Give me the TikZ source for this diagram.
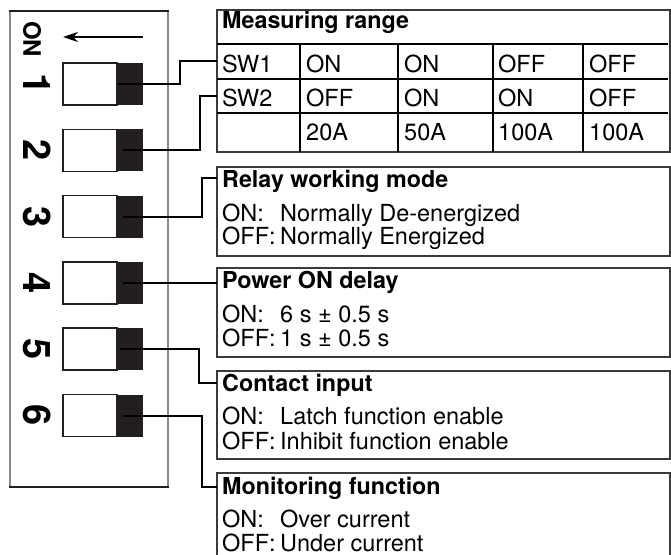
\documentclass[tikz,border=0pt]{standalone}
\usepackage{fontspec}
\setmainfont{TeX Gyre Heros}
\usetikzlibrary{arrows.meta}
\definecolor{swblack}{HTML}{231F20}
\definecolor{edgegray}{HTML}{8A8A8A}
\definecolor{boxline}{HTML}{3A3A3A}
\begin{document}
\begin{tikzpicture}[x=1pt,y=-1pt,
 conn/.style={line width=2pt, draw=black},
 gridline/.style={line width=2pt, draw=black},
 boxframe/.style={draw=boxline, line width=1.1pt, anchor=north west, minimum width=453pt, minimum height=89pt, inner sep=0pt, outer sep=0pt},
 txt/.style={anchor=base west, inner sep=0pt, font=\fontsize{23.5}{27}\selectfont},
 head/.style={anchor=base west, inner sep=0pt, font=\fontsize{23.3}{27}\selectfont\bfseries},
 digit/.style={font=\fontsize{38}{42}\selectfont\bfseries, rotate=-90, inner sep=0pt},
 swwhite/.style={draw=swblack, line width=1.5pt, fill=white, minimum width=54pt, minimum height=42pt, inner sep=0pt, outer sep=0pt, anchor=west},
 swknob/.style={fill=swblack, minimum width=26pt, minimum height=42pt, inner sep=0pt, outer sep=0pt, anchor=west},
]
\useasboundingbox (0,0) rectangle (671,554);
\fill[white] (0,0) rectangle (671,554);

% left switch panel
\draw[edgegray, line width=1.5pt] (10,11) -- (10,487);
\draw[edgegray, line width=1.5pt] (168,11) -- (168,487);
\draw[swblack, line width=2.5pt] (9.25,11) -- (168.75,11);
\draw[swblack, line width=2.5pt] (9.25,487) -- (168.75,487);

\node[font=\fontsize{24}{28}\selectfont\bfseries, rotate=-90, inner sep=0pt] (onlbl) at (32,39) {ON};
\coordinate (arrs) at (143,37);
\coordinate (arre) at (63,37);
\draw[line width=2pt, -{Stealth[length=15pt,width=10pt]}] (arrs) -- (arre);

\foreach \i/\y in {1/84,2/150.3,3/216.6,4/282.9,5/349.2,6/415.5}{
  \node[digit] (d\i) at (37,\y) {\i};
  \node[swwhite] (s\i) at (63,\y) {};
  \node[swknob] (k\i) at (117,\y) {};
}

% Measuring range table
\node[boxframe, minimum height=142pt] (mr) at (217,10) {};
\draw[gridline] (217,44) -- (668,44);
\draw[gridline] (217,79) -- (668,79);
\draw[gridline] (217,113) -- (668,113);
\foreach \x in {300,398,493,583}{\draw[gridline] (\x,44) -- (\x,152);}
\node[head] (mrh) at (222,28) {Measuring range};
\node[txt] (r1a) at (222,72) {SW1};
\node[txt] (r1b) at (306,72) {ON};
\node[txt] (r1c) at (404,72) {ON};
\node[txt] (r1d) at (498,72) {OFF};
\node[txt] (r1e) at (589,72) {OFF};
\node[txt] (r2a) at (222,106) {SW2};
\node[txt] (r2b) at (306,106) {OFF};
\node[txt] (r2c) at (404,106) {ON};
\node[txt] (r2d) at (498,106) {ON};
\node[txt] (r2e) at (589,106) {OFF};
\node[txt] (r3b) at (306,140) {20A};
\node[txt] (r3c) at (404,140) {50A};
\node[txt] (r3d) at (498,140) {100A};
\node[txt] (r3e) at (589,140) {100A};

% Relay working mode
\node[boxframe] (rw) at (217,167) {};
\node[head] (rwh) at (222,187.5) {Relay working mode};
\node[txt] (rw1) at (222,221) {ON:};
\node[txt] (rw1t) at (280,221) {Normally De-energized};
\node[txt] (rw2) at (222,244.5) {OFF:};
\node[txt] (rw2t) at (280,244.5) {Normally Energized};

% Power ON delay
\node[boxframe] (pd) at (217,268) {};
\node[head] (pdh) at (222,288.5) {Power ON delay};
\node[txt] (pd1) at (222,322) {ON:};
\node[txt] (pd1t) at (280,322) {6 s ± 0.5 s};
\node[txt] (pd2) at (222,346.5) {OFF:};
\node[txt] (pd2t) at (280,346.5) {1 s ± 0.5 s};

% Contact input
\node[boxframe, minimum height=88pt] (ci) at (217,371) {};
\node[head] (cih) at (222,391) {Contact input};
\node[txt] (ci1) at (222,424) {ON:};
\node[txt] (ci1t) at (280,424) {Latch function enable};
\node[txt] (ci2) at (222,449.5) {OFF:};
\node[txt] (ci2t) at (280,449.5) {Inhibit function enable};

% Monitoring function (open at the bottom edge)
\coordinate (mfbl) at (217,556);
\coordinate (mftl) at (217,473);
\coordinate (mftr) at (670,473);
\coordinate (mfbr) at (670,556);
\draw[boxline, line width=1.1pt] (mfbl) -- (mftl) -- (mftr) -- (mfbr);
\node[head] (mfh) at (222,494) {Monitoring function};
\node[txt] (mf1) at (222,527) {ON:};
\node[txt] (mf1t) at (280,527) {Over current};
\node[txt] (mf2) at (222,551) {OFF:};
\node[txt] (mf2t) at (280,551) {Under current};

% connectors
\coordinate (b1) at (180,61);   \coordinate (e1) at (217,61);
\coordinate (b2) at (200,96);   \coordinate (e2) at (217,96);
\coordinate (b3) at (202,178);  \coordinate (e3) at (217,178);
\coordinate (e4) at (217,282.9);
\coordinate (b5) at (199,383);  \coordinate (e5) at (217,383);
\coordinate (b6) at (202,487);  \coordinate (e6) at (217,487);
\draw[conn] ([xshift=1pt]k1.west) -| (b1) -- (e1);
\draw[conn] ([xshift=6pt]k2.west) -| (b2) -- (e2);
\draw[conn] ([xshift=6pt]k3.west) -| (b3) -- (e3);
\draw[conn] ([xshift=6pt]k4.west) -- (e4);
\draw[conn] ([xshift=3pt]k5.west) -| (b5) -- (e5);
\draw[conn] ([xshift=6pt]k6.west) -| (b6) -- (e6);
\end{tikzpicture}
\end{document}
